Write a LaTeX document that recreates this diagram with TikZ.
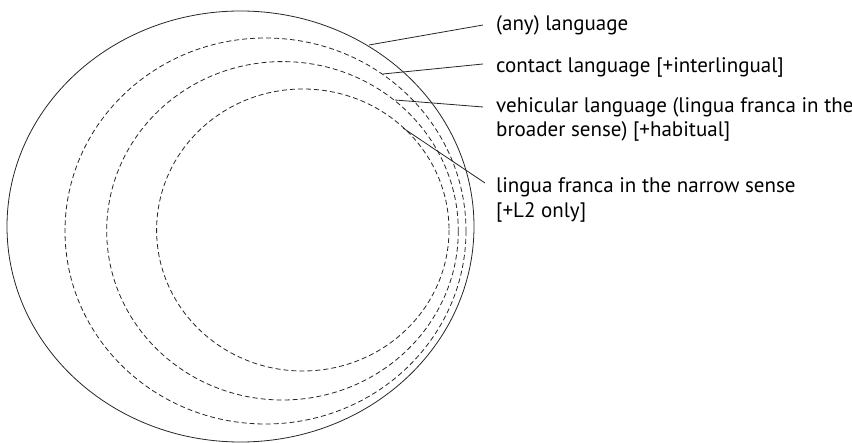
\documentclass[tikz,border=0pt]{standalone}
\usepackage{fontspec}
\setmainfont{PT Sans}
\begin{document}
\begin{tikzpicture}[x=1pt,y=-1pt,
  ring/.style={draw=black!85,line width=0.8pt},
  dashring/.style={ring,dash pattern=on 5pt off 3pt},
  leader/.style={draw=black!85,line width=0.8pt},
  lbl/.style={anchor=base west,inner sep=0pt,font=\fontsize{21}{24.5}\selectfont,align=left}]
\useasboundingbox (0,0) rectangle (852,443);
\draw[ring] (240.5,226.5) ellipse [x radius=233.5, y radius=215.5];
\draw[dashring] (265.5,231) ellipse [x radius=200.5, y radius=193];
\draw[dashring] (282.5,230.8) ellipse [x radius=175.8, y radius=169.2];
\draw[dashring] (302.8,230) ellipse [x radius=146.2, y radius=141];
\coordinate (s1) at (369,45);
\coordinate (s2) at (383,74);
\coordinate (s3) at (395,100);
\coordinate (s4) at (403,128);
\coordinate (e1) at (483,25);
\coordinate (e2) at (483,64);
\coordinate (e3) at (483,107);
\coordinate (e4) at (485,183);
\node[lbl] (l1) at (496,30.7) {(any) language};
\node[lbl] (l2) at (496,72.7) {contact language [+interlingual]};
\node[lbl] (l3) at (496,137) {vehicular language (lingua franca in the\\broader sense) [+habitual]};
\node[lbl] (l4) at (496,217.5) {lingua franca in the narrow sense\\{}[+L2 only]};
\draw[leader] (s1) -- (e1);
\draw[leader] (s2) -- (e2);
\draw[leader] (s3) -- (e3);
\draw[leader] (s4) -- (e4);
\end{tikzpicture}
\end{document}
